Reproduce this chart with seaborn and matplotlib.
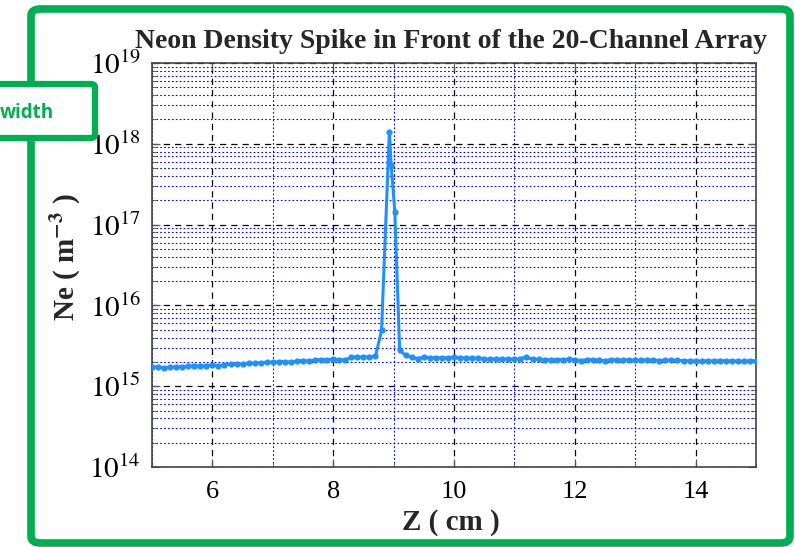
import numpy as np
import pandas as pd
import matplotlib
matplotlib.use("Agg")
import matplotlib.pyplot as plt
import matplotlib.ticker as mticker
from matplotlib.patches import FancyBboxPatch
import seaborn as sns

# position along the array (cm) and neon density (units of 1e15 m^-3)
z_cm = [5.0, 5.1, 5.2, 5.3, 5.4, 5.5, 5.6, 5.7, 5.8, 5.9,
        6.0, 6.1, 6.2, 6.3, 6.4, 6.5, 6.6, 6.7, 6.8, 6.9,
        7.0, 7.1, 7.2, 7.3, 7.4, 7.5, 7.6, 7.7, 7.8, 7.9,
        8.0, 8.1, 8.2, 8.3, 8.4, 8.5, 8.6, 8.7, 8.8, 8.93,
        8.96, 9.02, 9.1, 9.2, 9.3, 9.4, 9.5, 9.6, 9.7, 9.8,
        9.9, 10.0, 10.1, 10.2, 10.3, 10.4, 10.5, 10.6, 10.7, 10.8,
        10.9, 11.0, 11.1, 11.2, 11.3, 11.4, 11.5, 11.6, 11.7, 11.8,
        11.9, 12.0, 12.1, 12.2, 12.3, 12.4, 12.5, 12.6, 12.7, 12.8,
        12.9, 13.0, 13.1, 13.2, 13.3, 13.4, 13.5, 13.6, 13.7, 13.8,
        13.9, 14.0, 14.1, 14.2, 14.3, 14.4, 14.5, 14.6, 14.7, 14.8,
        14.9, 15.0]
ne_e15 = [1.75, 1.72, 1.70, 1.72, 1.74, 1.75, 1.76, 1.78, 1.77, 1.80,
          1.82, 1.80, 1.84, 1.86, 1.88, 1.90, 1.92, 1.93, 1.95, 1.97,
          1.98, 2.00, 2.02, 1.98, 2.05, 2.08, 2.05, 2.12, 2.14, 2.14,
          2.15, 2.14, 2.10, 2.28, 2.30, 2.30, 2.32, 2.35, 4.9, 1400.0,
          540.0, 145.0, 2.8, 2.40, 2.28, 2.20, 2.30, 2.26, 2.25, 2.24,
          2.25, 2.27, 2.26, 2.24, 2.22, 2.23, 2.18, 2.15, 2.17, 2.16,
          2.18, 2.15, 2.20, 2.30, 2.15, 2.16, 2.14, 2.12, 2.14, 2.13,
          2.15, 2.12, 2.08, 2.12, 2.14, 2.10, 2.08, 2.13, 2.12, 2.11,
          2.12, 2.10, 2.11, 2.10, 2.12, 2.08, 2.10, 2.09, 2.10, 2.07,
          2.06, 2.05, 2.04, 2.07, 2.05, 2.08, 2.06, 2.07, 2.05, 2.04,
          2.07, 2.06]

df = pd.DataFrame({"z": z_cm, "ne": np.array(ne_e15) * 1e15})

sns.set_style("ticks")
plt.rcParams["font.family"] = ["Liberation Serif", "DejaVu Serif"]
plt.rcParams["mathtext.fontset"] = "stix"

W, H = 795, 547
fig = plt.figure(figsize=(W / 100, H / 100), dpi=100)
ax = fig.add_axes([152 / W, 1 - 467 / H, 604 / W, 404 / H])

sns.lineplot(data=df, x="z", y="ne", ax=ax, color="#1E90FF", lw=2.2,
             marker="o", markersize=4.5, markeredgewidth=0, zorder=5)

ax.set_yscale("log")
ax.set_xlim(5, 15)
ax.set_ylim(1e14, 1e19)
ax.xaxis.set_major_locator(mticker.MultipleLocator(2))
ax.xaxis.set_minor_locator(mticker.MultipleLocator(1))
ax.yaxis.set_major_locator(mticker.LogLocator(base=10, numticks=10))
ax.yaxis.set_minor_locator(mticker.LogLocator(base=10, subs=np.arange(2, 10), numticks=20))
ax.yaxis.set_minor_formatter(mticker.NullFormatter())
ax.yaxis.set_major_formatter(mticker.FuncFormatter(lambda v, p: r"$10^{%d}$" % round(np.log10(v))))

ax.grid(which="major", color="black", ls=(0, (5, 4)), lw=0.9)
ax.grid(which="minor", color="blue", ls=(0, (1.5, 2)), lw=0.8)
ax.tick_params(which="both", direction="in", top=True, right=True, colors="#555555",
               labelcolor="black")
ax.tick_params(which="major", length=6, labelsize=19)
ax.tick_params(which="minor", length=3)
ax.tick_params(axis="y", labelsize=21, pad=8)
ax.tick_params(axis="x", pad=10)
for s in ax.spines.values():
    s.set_color("#444444")
    s.set_linewidth(1.2)

ax.set_xlabel("Z ( cm )", fontsize=21, fontweight="bold")
ax.set_ylabel(r"Ne ( m$^{\mathbf{-3}}$ )", fontsize=21, fontweight="bold")
ax.xaxis.set_label_coords(0.495, -0.105)
ax.yaxis.set_label_coords(-0.115, 0.52)
fig.text(451 / W, 1 - 42 / H, "Neon Density Spike in Front of the 20-Channel Array",
         ha="center", va="center", fontsize=20, fontweight="bold")

# slide decoration: green frame and label box
green = "#00B050"
frame = FancyBboxPatch((31 / W, 1 - 543 / H), 759 / W, 534 / H,
                       boxstyle="round,pad=0,rounding_size=0.012",
                       transform=fig.transFigure, fill=False, ec=green, lw=5.5, zorder=0)
fig.patches.append(frame)
box = FancyBboxPatch((-20 / W, 1 - 138 / H), 115 / W, 54 / H,
                     boxstyle="round,pad=0,rounding_size=0.006",
                     transform=fig.transFigure, fc="white", ec=green, lw=4.5, zorder=1)
fig.patches.append(box)
fig.text(54 / W, 1 - 113 / H, "width", ha="right", va="center", color=green,
         fontsize=13.5, fontweight="bold", family=["Open Sans", "DejaVu Sans"], zorder=2)

fig.savefig("out.png", dpi=100)
